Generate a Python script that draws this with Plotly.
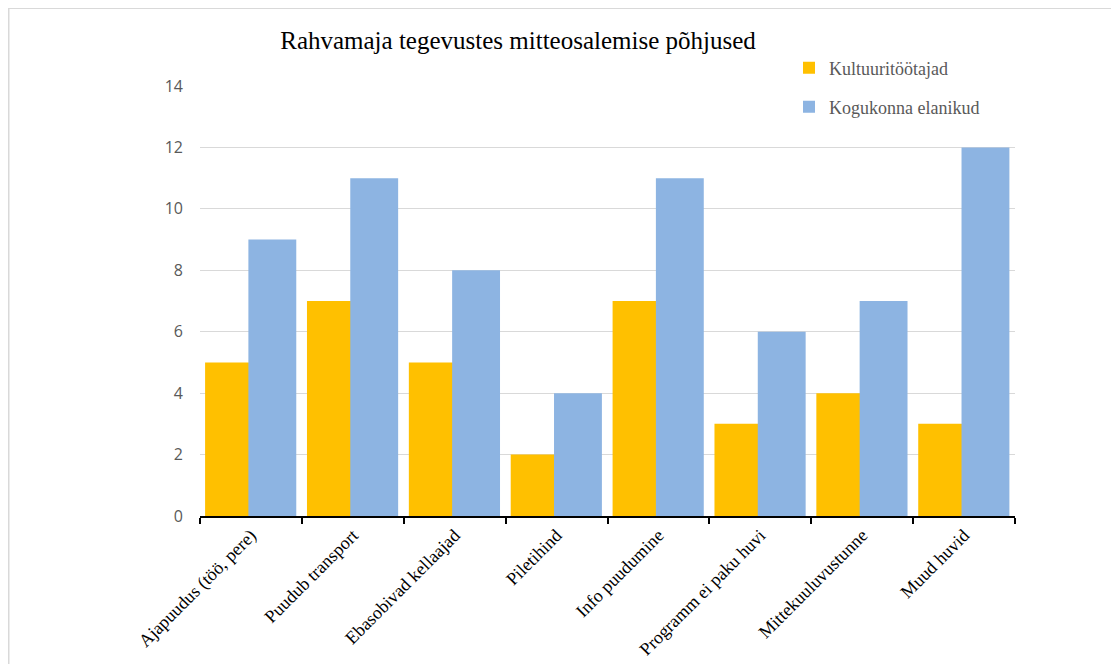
import plotly.graph_objects as go

categories = ["Ajapuudus (töö, pere)", "Puudub transport", "Ebasobivad kellaajad", "Piletihind",
              "Info puudumine", "Programm ei paku huvi", "Mittekuuluvustunne", "Muud huvid"]
kultuur = [5, 7, 5, 2, 7, 3, 4, 3]
elanikud = [9, 11, 8, 4, 11, 6, 7, 12]
y_ticks = [0, 2, 4, 6, 8, 10, 12, 14]

OFF = 8  # page body margin
W, H = 1119 - OFF, 664 - OFF
L, T = 200 - OFF, 86 - OFF
R = W - (1015 - OFF)
B = H - (516 - OFF)
pw, ph = W - L - R, H - T - B

fig = go.Figure()
fig.add_trace(go.Bar(x=categories, y=kultuur, name="Kultuuritöötajad",
                     marker=dict(color="#FFC000", line=dict(width=0)),
                     width=0.47, offset=-0.45, legend="legend"))
fig.add_trace(go.Bar(x=categories, y=elanikud, name="Kogukonna elanikud",
                     marker=dict(color="#8DB4E2", line=dict(width=0)),
                     width=0.47, offset=-0.025, legend="legend2"))

def px_x(px):  # page pixel -> paper
    return (px - OFF - L) / pw

def px_y(py):
    return (H - B - (py - OFF)) / ph

legend_font = dict(family="Liberation Serif", size=18, color="#595959")
fig.update_layout(
    width=W, height=H,
    showlegend=True,
    margin=dict(l=L, r=R, t=T, b=B, autoexpand=False),
    paper_bgcolor="white", plot_bgcolor="white",
    barmode="overlay",
    title=dict(text="Rahvamaja tegevustes mitteosalemise põhjused",
               font=dict(family="Liberation Serif", size=25, color="#000000"),
               x=(518 - OFF) / W, xanchor="center", xref="container",
               y=1 - (40 - OFF) / H, yanchor="middle", yref="container"),
    legend=dict(x=px_x(789), y=px_y(68), xanchor="left", yanchor="middle",
                font=legend_font, bgcolor="rgba(0,0,0,0)", visible=True),
    legend2=dict(x=px_x(789), y=px_y(107), xanchor="left", yanchor="middle",
                 font=legend_font, bgcolor="rgba(0,0,0,0)", visible=True),
    xaxis=dict(type="category", showline=True, linecolor="#000000", linewidth=1.5,
               ticks="outside", tickson="boundaries", ticklen=6, tickcolor="#000000",
               tickwidth=1.5, tickangle=-45, showgrid=False,
               tickfont=dict(family="Liberation Serif", size=18, color="#000000")),
    yaxis=dict(range=[0, 14], tickvals=y_ticks, showgrid=True, gridcolor="#D9D9D9",
               gridwidth=1, zeroline=False, showline=False, ticks="",
               ticklabelstandoff=16,
               tickfont=dict(family="Open Sans", size=16, color="#595959")),
    shapes=[
        dict(type="line", xref="paper", yref="paper", x0=px_x(7.5), x1=px_x(1130),
             y0=px_y(8), y1=px_y(8), line=dict(color="#D9D9D9", width=2), layer="below"),
        dict(type="line", xref="paper", yref="paper", x0=px_x(8.5), x1=px_x(8.5),
             y0=px_y(7), y1=px_y(680), line=dict(color="#D9D9D9", width=2), layer="below"),
    ],
)

fig.write_html("out.html")
